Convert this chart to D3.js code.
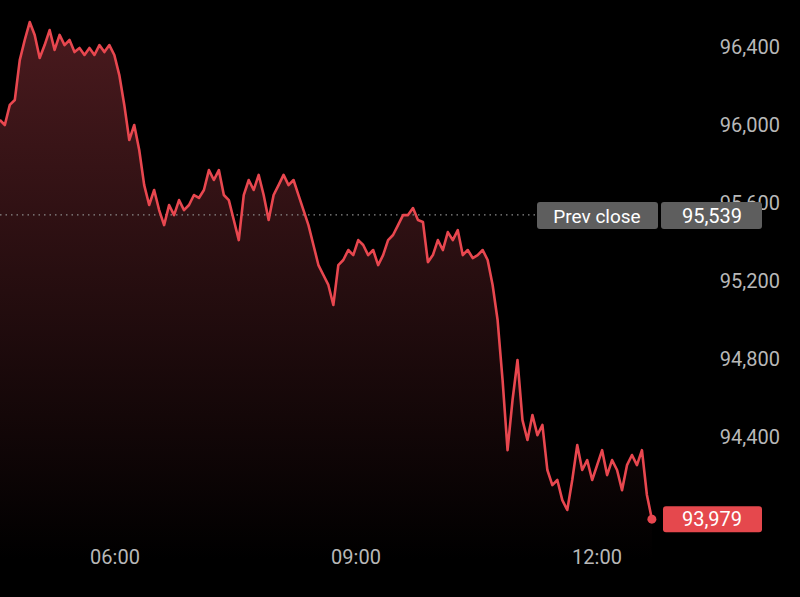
<!DOCTYPE html>
<html>
<head>
<meta charset="utf-8">
<script src="https://cdn.jsdelivr.net/npm/d3@7"></script>
<style>
  body { margin: 0; background: #000; }
  svg { display: block; font-family: Roboto, "Noto Sans", sans-serif; }
</style>
</head>
<body>
<svg id="chart" width="800" height="597"></svg>
<script>
// price series, sampled at equal steps from 04:34 to 12:41
var startTime = "04:34";
var endTime   = "12:41";
var prices = [
  96026, 96000, 96103, 96128, 96333, 96436, 96528, 96462, 96344, 96410,
  96487, 96385, 96462, 96410, 96436, 96374, 96395, 96359, 96395, 96359,
  96410, 96374, 96410, 96359, 96256, 96103, 95923, 96000, 95872, 95692,
  95590, 95667, 95564, 95487, 95590, 95538, 95615, 95564, 95590, 95641,
  95626, 95667, 95769, 95718, 95769, 95641, 95615, 95513, 95410, 95641,
  95718, 95667, 95744, 95641, 95513, 95641, 95692, 95744, 95692, 95718,
  95641, 95564, 95487, 95385, 95282, 95231, 95180, 95077, 95282, 95308,
  95359, 95333, 95410, 95385, 95333, 95359, 95282, 95333, 95410, 95436,
  95487, 95538, 95538, 95574, 95513, 95503, 95297, 95333, 95410, 95359,
  95451, 95410, 95461, 95333, 95359, 95318, 95333, 95359, 95308, 95180,
  95000, 94692, 94333, 94590, 94795, 94487, 94385, 94513, 94410, 94462,
  94231, 94154, 94180, 94077, 94026, 94180, 94359, 94231, 94282, 94180,
  94256, 94333, 94205, 94282, 94231, 94128, 94256, 94308, 94256, 94333,
  94103, 93979
];
var prevClose = 95539;
var yTicks = [94400, 94800, 95200, 95600, 96000, 96400];
var xTicks = ["06:00", "09:00", "12:00"];

var svg = d3.select("#chart");
var parse = d3.timeParse("%H:%M");
var t0 = parse(startTime), t1 = parse(endTime);
var step = (t1 - t0) / (prices.length - 1);
var data = prices.map(function(p, i) { return { t: new Date(+t0 + i * step), v: p }; });

var x = d3.scaleTime().domain([parse("06:00"), parse("12:00")]).range([115, 597]);
var y = d3.scaleLinear().domain([93580, 96641]).range([597, 0]);

var defs = svg.append("defs");
var grad = defs.append("linearGradient").attr("id", "fade")
  .attr("x1", 0).attr("y1", 0).attr("x2", 0).attr("y2", 1);
grad.append("stop").attr("offset", "0%").attr("stop-color", "#4a1a1e");
grad.append("stop").attr("offset", "100%").attr("stop-color", "#000");

var area = d3.area().x(function(d) { return x(d.t); }).y0(560).y1(function(d) { return y(d.v); });
var line = d3.line().x(function(d) { return x(d.t); }).y(function(d) { return y(d.v); });

svg.append("path").datum(data).attr("d", area).attr("fill", "url(#fade)");

// y tick labels
svg.selectAll(".ytick").data(yTicks).enter().append("text")
  .attr("x", 780).attr("y", function(d) { return y(d); })
  .attr("dy", "0.35em").attr("text-anchor", "end")
  .attr("fill", "#b8b8b8").attr("font-size", 20)
  .text(function(d) { return d3.format(",")(d); });

// x tick labels
svg.selectAll(".xtick").data(xTicks).enter().append("text")
  .attr("x", function(d) { return x(parse(d)); }).attr("y", 564)
  .attr("text-anchor", "middle").attr("fill", "#b8b8b8").attr("font-size", 20)
  .text(function(d) { return d; });

// prev close
var py = y(prevClose);
svg.append("line").attr("x1", 0).attr("x2", 535).attr("y1", py).attr("y2", py)
  .attr("stroke", "#8a8a8a").attr("stroke-width", 1.2).attr("stroke-dasharray", "1.5,4");
svg.append("rect").attr("x", 537).attr("y", py - 13).attr("width", 121).attr("height", 27)
  .attr("rx", 3).attr("fill", "#5e5e5e");
svg.append("text").attr("x", 597).attr("y", py + 1).attr("dy", "0.35em")
  .attr("text-anchor", "middle").attr("fill", "#fff").attr("font-size", 19).text("Prev close");
svg.append("rect").attr("x", 661).attr("y", py - 13).attr("width", 101).attr("height", 27)
  .attr("rx", 3).attr("fill", "#5e5e5e");
svg.append("text").attr("x", 712).attr("y", py + 1).attr("dy", "0.35em")
  .attr("text-anchor", "middle").attr("fill", "#fff").attr("font-size", 20)
  .text(d3.format(",")(prevClose));

svg.append("path").datum(data).attr("d", line).attr("fill", "none")
  .attr("stroke", "#e8474f").attr("stroke-width", 2.6).attr("stroke-linejoin", "round");

// last price
var last = data[data.length - 1];
svg.append("circle").attr("cx", x(last.t)).attr("cy", y(last.v)).attr("r", 4.5).attr("fill", "#e8474f");
svg.append("rect").attr("x", 663).attr("y", y(last.v) - 13).attr("width", 99).attr("height", 26)
  .attr("rx", 3).attr("fill", "#e5484d");
svg.append("text").attr("x", 712).attr("y", y(last.v)).attr("dy", "0.35em")
  .attr("text-anchor", "middle").attr("fill", "#fff").attr("font-size", 20)
  .text(d3.format(",")(last.v));
</script>
</body>
</html>
